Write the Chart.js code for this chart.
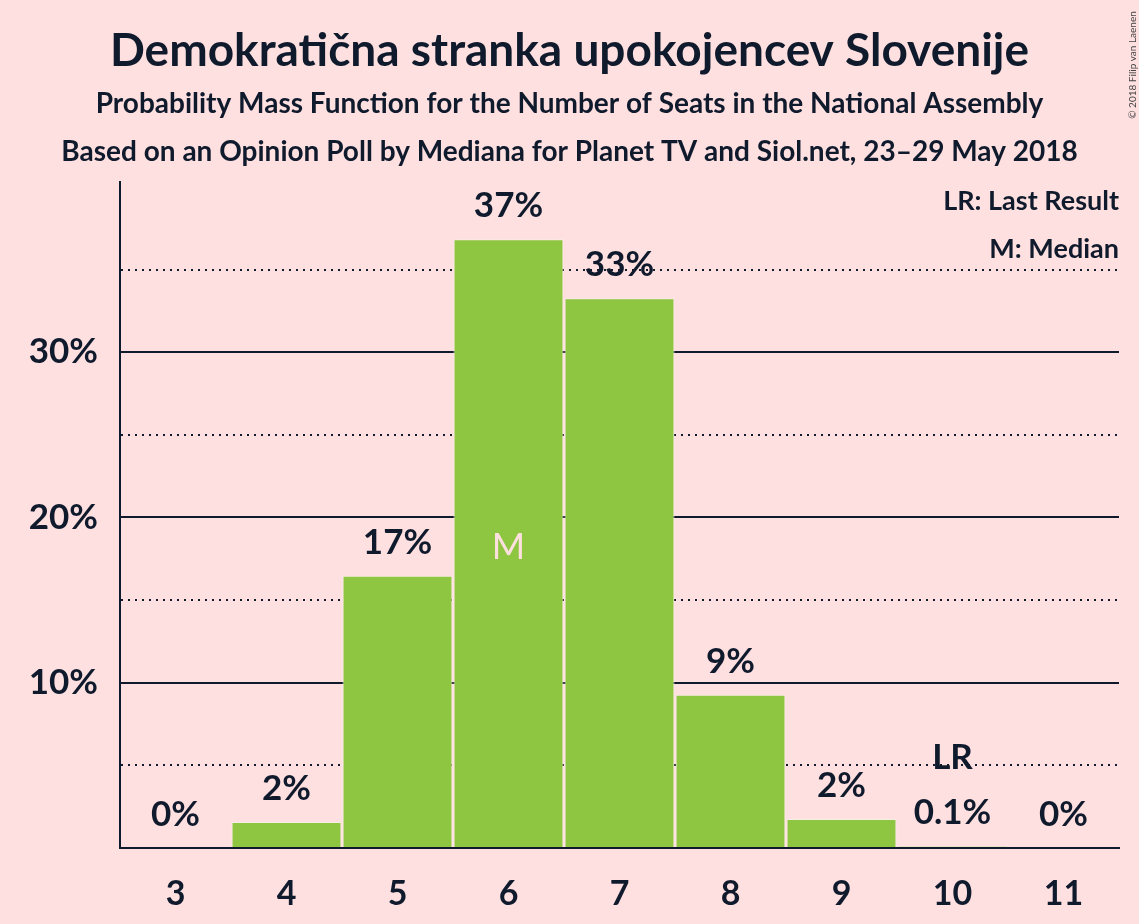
<!DOCTYPE html>
<html>
<head>
<meta charset="utf-8">
<script src="https://cdn.jsdelivr.net/npm/chart.js@4.4.1/dist/chart.umd.min.js"></script>
<style>
  html, body { margin: 0; padding: 0; background: #FFE0E0; }
  #wrap { width: 1139px; height: 924px; }
</style>
</head>
<body>
<div id="wrap"><canvas id="myChart" width="1139" height="924"></canvas></div>
<script>
const seats = ['3', '4', '5', '6', '7', '8', '9', '10', '11']
const probability = [0, 1.57, 16.47, 36.84, 33.27, 9.27, 1.75, 0.1, 0]
const barLabels = ['0%', '2%', '17%', '37%', '33%', '9%', '2%', '0.1%', '0%']
const yTickLabels = { 10: '10%', 20: '20%', 30: '30%' }
const medianSeat = '6'
const lastResultSeat = '10'

const titleText = 'Demokratična stranka upokojencev Slovenije'
const subtitle1 = 'Probability Mass Function for the Number of Seats in the National Assembly'
const subtitle2 = 'Based on an Opinion Poll by Mediana for Planet TV and Siol.net, 23–29 May 2018'
const legendLines = ['LR: Last Result', 'M: Median']
const copyright = '© 2018 Filip van Laenen'

const ink = '#0f1a2c'
const bg = '#FFE0E0'
const green = '#8FC641'
const font = 'Lato, "Open Sans", sans-serif'

const ctx = document.getElementById('myChart').getContext('2d')

const background = {
    id: 'background',
    beforeDraw(chart){
        const c = chart.ctx
        c.save()
        c.fillStyle = bg
        c.fillRect(0, 0, chart.width, chart.height)
        c.restore()
    }
}

const annotations = {
    id: 'annotations',
    afterDraw(chart){
        const c = chart.ctx
        const area = chart.chartArea
        const meta = chart.getDatasetMeta(0)
        c.save()
        c.fillStyle = ink
        c.textAlign = 'center'
        c.textBaseline = 'alphabetic'

        // headings
        c.font = 'bold 46px ' + font
        c.fillText(titleText, chart.width / 2, 66)
        c.font = 'bold 28px ' + font
        c.fillText(subtitle1, chart.width / 2, 113)
        c.fillText(subtitle2, chart.width / 2, 161)

        // legend top right
        c.textAlign = 'right'
        c.font = 'bold 27px ' + font
        c.fillText(legendLines[0], area.right, 210)
        c.fillText(legendLines[1], area.right, 258)

        // value labels above bars
        c.textAlign = 'center'
        c.font = 'bold 35px ' + font
        meta.data.forEach((bar, i) => {
            c.fillText(barLabels[i], bar.x, bar.y - 22)
        })

        // median marker
        const mBar = meta.data[seats.indexOf(medianSeat)]
        c.fillStyle = bg
        c.font = '36px ' + font
        c.fillText('M', mBar.x, 559)

        // last result marker
        const lrBar = meta.data[seats.indexOf(lastResultSeat)]
        c.fillStyle = ink
        c.font = 'bold 35px ' + font
        c.fillText('LR', lrBar.x, 769)

        // copyright, rotated
        c.translate(1133, 65)
        c.rotate(-Math.PI / 2)
        c.fillStyle = '#444'
        c.font = '10px ' + font
        c.textBaseline = 'middle'
        c.fillText(copyright, 0, 0)
        c.restore()
    }
}

const options = {
    type: 'bar',
    data: {
        labels: seats,
        datasets: [{
            data: probability,
            backgroundColor: green,
            borderColor: '#F6EDE6',
            borderWidth: 1,
            barPercentage: 0.99,
            categoryPercentage: 1
        }]
    },
    options: {
        responsive: false,
        animation: false,
        layout: { padding: { left: 0, right: 20, top: 182, bottom: 0 } },
        plugins: {
            legend: { display: false },
            tooltip: { enabled: false }
        },
        scales: {
            x: {
                grid: { display: false, drawTicks: false },
                border: { color: ink, width: 2 },
                ticks: {
                    color: ink,
                    padding: 26,
                    font: { family: font, size: 34, weight: 'bold' }
                },
                afterFit(scale){ scale.height = 76 }
            },
            y: {
                min: 0,
                max: 40.3,
                afterBuildTicks(scale){
                    scale.ticks = [0, 5, 10, 15, 20, 25, 30, 35].map(v => ({ value: v }))
                },
                grid: {
                    drawTicks: false,
                    lineWidth: 2,
                    color(c){
                        const v = c.tick ? c.tick.value : 0
                        if(v === 0) return 'rgba(0,0,0,0)'
                        return ink
                    }
                },
                border: {
                    color: ink,
                    width: 2,
                    dash(c){
                        const v = c.tick ? c.tick.value : 0
                        return v % 10 === 5 ? [2, 5] : []
                    }
                },
                ticks: {
                    color: ink,
                    padding: 22,
                    font: { family: font, size: 35, weight: 'bold' },
                    callback(value){ return yTickLabels[value] || '' }
                },
                afterFit(scale){ scale.width = 120 }
            }
        }
    },
    plugins: [background, annotations]
}

const myChart = new Chart(ctx, options)
</script>
</body>
</html>
